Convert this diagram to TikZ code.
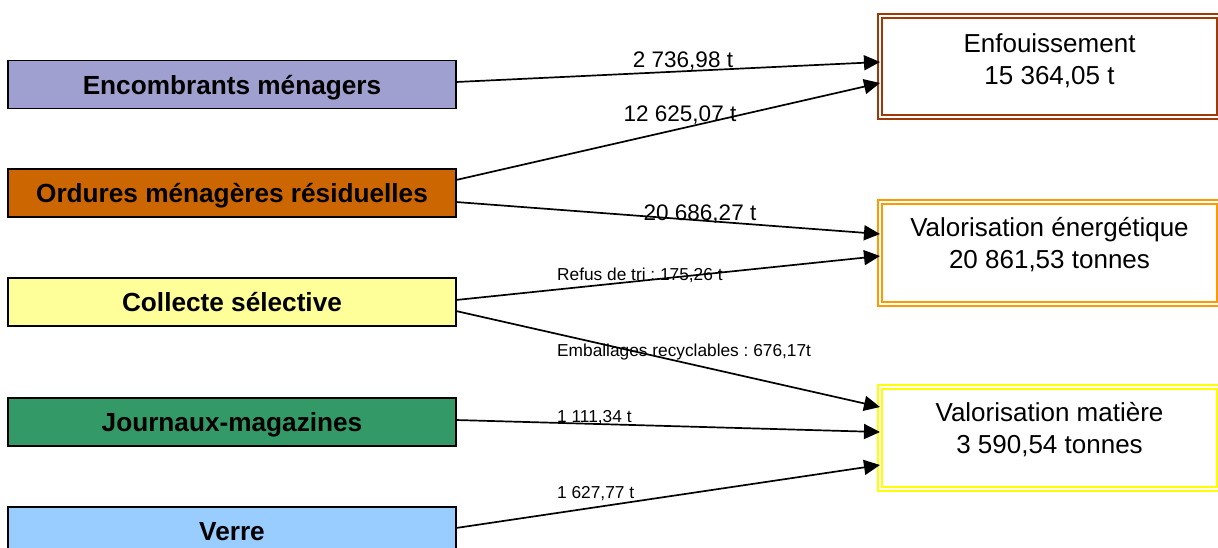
\documentclass[tikz,border=0pt]{standalone}
\usepackage{fontspec}
\setmainfont{Liberation Sans}
\usetikzlibrary{arrows.meta}
\frenchspacing
\definecolor{encc}{RGB}{160,160,208}
\definecolor{ordc}{RGB}{204,102,0}
\definecolor{colc}{RGB}{255,255,153}
\definecolor{jouc}{RGB}{51,153,102}
\definecolor{verc}{RGB}{153,204,255}
\definecolor{enfc}{RGB}{160,56,8}
\definecolor{vec}{RGB}{255,153,0}
\definecolor{vmc}{RGB}{255,255,0}
\begin{document}
\frenchspacing
\begin{tikzpicture}[x=1pt,y=-1pt,
  src/.style={draw=black, fill=#1, line width=1.5pt, minimum width=448pt, minimum height=48pt, inner sep=0pt, outer sep=0pt, text height=19pt, text depth=0pt, font=\fontsize{26.2}{31}\selectfont\bfseries},
  dst/.style={draw=#1, double=white, line width=2.2pt, double distance=2pt, minimum width=339pt, minimum height=102pt, inner sep=0pt, outer sep=0pt},
  dsttxt/.style={align=center, font=\fontsize{26}{32}\selectfont, inner sep=0pt},
  flow/.style={line width=1.7pt, -{Triangle[length=16pt,width=15pt]}},
  big/.style={font=\fontsize{22.5}{27}\selectfont, inner sep=0pt, anchor=base},
  small/.style={font=\fontsize{17.3}{20}\selectfont\frenchspacing, inner sep=0pt, anchor=base west},
]
\clip (0,0) rectangle (1218,547);
\useasboundingbox (0,0) rectangle (1218,547);

% sources
\node[src=encc] (enc) at (232,84.5) {Encombrants ménagers};
\node[src=ordc] (ord) at (232,193) {Ordures ménagères résiduelles};
\node[src=colc] (col) at (232,302) {Collecte sélective};
\node[src=jouc] (jou) at (232,422) {Journaux-magazines};
\node[src=verc] (ver) at (232,531) {Verre};

% destinations
\node[dst=enfc, minimum height=101pt] (enf) at (1049.5,66.5) {};
\node[dst=vec] (ve) at (1049.5,253) {};
\node[dst=vmc] (vm) at (1049.5,438) {};
\node[dsttxt] (enft) at ([yshift=6pt]enf.center) {Enfouissement\\15 364,05 t};
\node[dsttxt] (vet) at ([yshift=8.5pt]ve.center) {Valorisation énergétique\\20 861,53 tonnes};
\node[dsttxt] (vmt) at ([yshift=8.5pt]vm.center) {Valorisation matière\\3 590,54 tonnes};

% flows
\draw[flow] ([yshift=2.5pt]enc.east) -- ([yshift=4.5pt]enf.west);
\draw[flow] ([yshift=13pt]ord.east) -- ([yshift=-16.5pt]enf.west);
\draw[flow] ([yshift=-9pt]ord.east) -- ([yshift=19pt]ve.west);
\draw[flow] ([yshift=2pt]col.east) -- ([yshift=-3pt]ve.west);
\draw[flow] ([yshift=-9pt]col.east) -- ([yshift=31pt]vm.west);
\draw[flow] ([yshift=2pt]jou.east) -- ([yshift=6pt]vm.west);
\draw[flow] ([yshift=3pt]ver.east) -- ([yshift=-27pt]vm.west);

% labels
\node[big] (l1) at (683,67.3) {2 736,98 t};
\node[big] (l2) at (680,121.7) {12 625,07 t};
\node[big] (l3) at (700,220) {20 686,27 t};
\node[small] (l4) at (557,280) {Refus de tri : 175,26 t};
\node[small] (l5) at (557,356) {Emballages recyclables : 676,17t};
\node[small] (l6) at (557,422) {1 111,34 t};
\node[small] (l7) at (557,498) {1 627,77 t};
\end{tikzpicture}
\end{document}
